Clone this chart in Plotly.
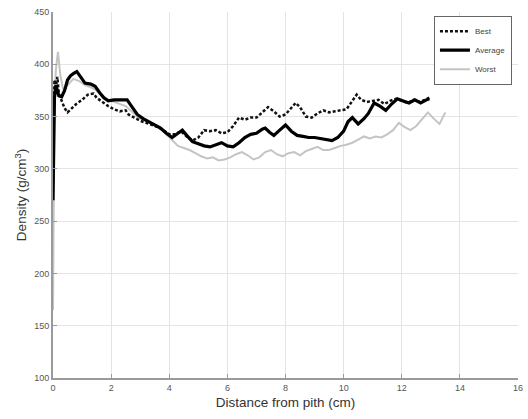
import plotly.graph_objects as go

# Radial density profiles (distance from pith in cm, density as plotted)
best_x = [0, 0.05, 0.1, 0.15, 0.2, 0.3, 0.4, 0.5, 0.6, 0.8, 1.0, 1.2, 1.4, 1.5, 1.7, 1.9, 2.1, 2.3,
          2.5, 2.6, 2.8, 3.0, 3.2, 3.4, 3.6, 3.8, 4.0, 4.2, 4.4, 4.6, 4.8, 5.0, 5.2, 5.4, 5.6, 5.8,
          6.0, 6.2, 6.4, 6.6, 6.8, 7.0, 7.2, 7.4, 7.6, 7.8, 8.0, 8.2, 8.35, 8.5, 8.7, 8.9, 9.1, 9.3,
          9.5, 9.7, 9.9, 10.1, 10.3, 10.45, 10.6, 10.8, 11.0, 11.2, 11.4, 11.6, 11.8, 12.0, 12.2,
          12.4, 12.6, 12.8, 12.95]
best_y = [290, 385, 378, 388, 372, 365, 358, 354, 357, 362, 366, 371, 372, 368, 364, 360, 357, 355,
          356, 352, 349, 346, 344, 342, 340, 337, 333, 333, 336, 331, 327, 330, 337, 336, 337, 334,
          335, 341, 349, 347, 349, 349, 354, 359, 355, 350, 352, 358, 363, 359, 350, 349, 353, 356,
          354, 355, 356, 357, 365, 371, 366, 364, 365, 366, 362, 365, 367, 365, 363, 366, 364, 366,
          368]

avg_x = [0, 0.05, 0.1, 0.2, 0.3, 0.4, 0.5, 0.6, 0.7, 0.82, 0.95, 1.1, 1.3, 1.45, 1.6, 1.75, 1.9,
         2.1, 2.3, 2.55, 2.7, 2.9, 3.1, 3.3, 3.5, 3.7, 3.9, 4.1, 4.3, 4.45, 4.6, 4.8, 5.0, 5.2, 5.4,
         5.6, 5.8, 6.0, 6.2, 6.4, 6.6, 6.8, 7.0, 7.2, 7.3, 7.45, 7.6, 7.8, 8.0, 8.2, 8.4, 8.6, 8.8,
         9.0, 9.2, 9.4, 9.6, 9.8, 10.0, 10.15, 10.3, 10.5, 10.7, 10.85, 11.05, 11.25, 11.45, 11.65,
         11.85, 12.05, 12.25, 12.45, 12.65, 12.85, 12.95]
avg_y = [270, 368, 380, 370, 369, 375, 385, 389, 391, 393, 388, 382, 381, 379, 373, 368, 365, 366,
         366, 366, 360, 352, 348, 345, 342, 339, 334, 330, 334, 337, 332, 326, 324, 322, 321, 323,
         325, 322, 321, 325, 330, 333, 334, 338, 339, 335, 332, 337, 342, 336, 332, 331, 330, 330,
         329, 328, 327, 330, 336, 345, 349, 343, 348, 353, 363, 360, 356, 362, 367, 365, 363, 366,
         363, 366, 367]

worst_x = [0, 0.05, 0.1, 0.17, 0.25, 0.35, 0.5, 0.7, 0.9, 1.1, 1.3, 1.5, 1.7, 1.9, 2.1, 2.3, 2.5,
           2.7, 2.9, 3.1, 3.3, 3.5, 3.7, 3.9, 4.1, 4.3, 4.5, 4.7, 4.9, 5.1, 5.3, 5.5, 5.7, 5.9, 6.1,
           6.3, 6.5, 6.7, 6.9, 7.1, 7.3, 7.5, 7.7, 7.9, 8.1, 8.3, 8.5, 8.7, 8.9, 9.1, 9.3, 9.5, 9.7,
           9.9, 10.1, 10.3, 10.5, 10.7, 10.9, 11.1, 11.3, 11.5, 11.7, 11.9, 12.1, 12.3, 12.5, 12.7,
           12.9, 13.1, 13.3, 13.5]
worst_y = [165, 370, 395, 412, 390, 376, 380, 386, 384, 380, 378, 375, 370, 366, 364, 362, 360,
           355, 350, 347, 345, 342, 338, 333, 327, 322, 320, 318, 315, 312, 310, 311, 308, 309, 311,
           314, 316, 313, 309, 311, 316, 318, 314, 312, 315, 316, 313, 317, 319, 321, 318, 318, 320,
           322, 323, 325, 328, 331, 329, 331, 330, 333, 337, 344, 340, 337, 341, 347, 354, 348, 343,
           354]

x_ticks = [0, 2, 4, 6, 8, 10, 12, 14, 16]
y_ticks = [100, 150, 200, 250, 300, 350, 400, 450]

fig = go.Figure()
fig.add_trace(go.Scatter(x=worst_x, y=worst_y, mode="lines", name="Worst",
                         line=dict(color="#c4c4c4", width=2), legendrank=3))
fig.add_trace(go.Scatter(x=best_x, y=best_y, mode="lines", name="Best",
                         line=dict(color="#111111", width=2.5, dash="3px,2px"), legendrank=1))
fig.add_trace(go.Scatter(x=avg_x, y=avg_y, mode="lines", name="Average",
                         line=dict(color="#000000", width=3.2), legendrank=2))

font_family = "Liberation Sans, Arial, sans-serif"

fig.update_layout(
    width=528, height=419,
    margin=dict(l=53, r=5, t=12, b=41),
    paper_bgcolor="white", plot_bgcolor="white",
    font=dict(family=font_family, color="#333333"),
    showlegend=True,
    legend=dict(
        x=0.987, y=0.99, xanchor="right", yanchor="top",
        bgcolor="white", bordercolor="#666666", borderwidth=1,
        font=dict(size=8, color="#444444"),
        traceorder="normal", itemwidth=30,
        tracegroupgap=0,
    ),
    xaxis=dict(
        range=[0, 16], tickvals=x_ticks, ticktext=[str(v) for v in x_ticks],
        showgrid=True, gridcolor="#e4e4e4", gridwidth=1,
        showline=True, linecolor="#9a9a9a", linewidth=2,
        ticks="inside", ticklen=4, tickcolor="#9a9a9a",
        tickfont=dict(size=9, color="#555555"),
        ticklabeloverflow="allow",
        title=dict(text="Distance from pith (cm)", font=dict(size=13.5, color="#333333"), standoff=6),
        zeroline=False,
    ),
    yaxis=dict(
        range=[100, 450], tickvals=y_ticks, ticktext=[str(v) for v in y_ticks],
        showgrid=True, gridcolor="#e4e4e4", gridwidth=1,
        showline=True, linecolor="#9a9a9a", linewidth=2,
        ticks="inside", ticklen=4, tickcolor="#9a9a9a",
        tickfont=dict(size=9, color="#555555"),
        title=dict(text="Density (g/cm<sup>3</sup>)", font=dict(size=13.5, color="#333333"), standoff=4),
        zeroline=False,
    ),
)

fig.write_html("out.html")
